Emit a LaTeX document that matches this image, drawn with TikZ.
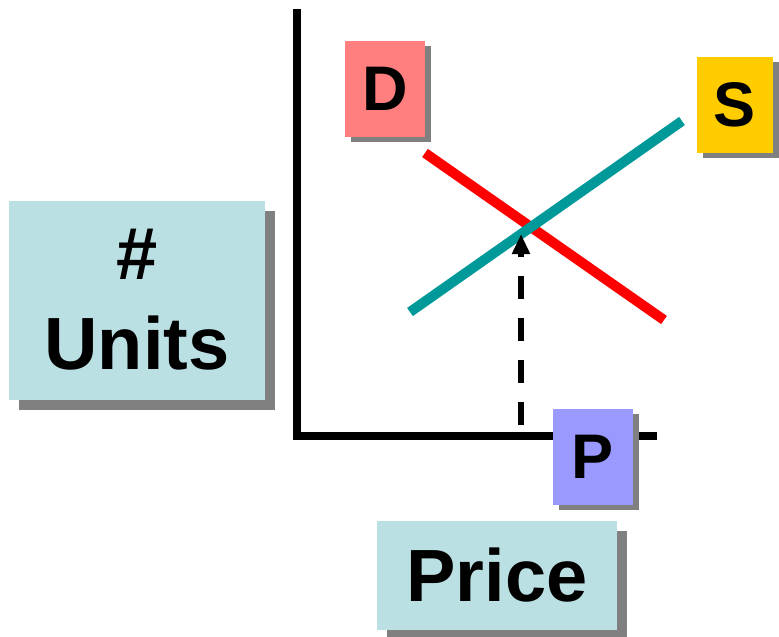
\documentclass[tikz,border=0pt]{standalone}
\usepackage{fontspec}
\setmainfont{Liberation Sans}
\usetikzlibrary{arrows.meta,shadows}
\definecolor{lblBlue}{HTML}{BBE0E3}
\definecolor{dRed}{HTML}{FF7F7F}
\definecolor{sGold}{HTML}{FFCC00}
\definecolor{pBlue}{HTML}{9999FF}
\definecolor{sTeal}{HTML}{009999}

\begin{document}
\begin{tikzpicture}[x=1pt,y=-1pt,
  bigbox/.style={fill=lblBlue,inner sep=0pt,align=center,
    font=\fontsize{74}{90}\selectfont\bfseries,
    drop shadow={shadow xshift=10pt,shadow yshift=-10pt,fill=black!50,opacity=1}},
  tagbox/.style={inner sep=0pt,minimum width=80pt,minimum height=96pt,
    font=\fontsize{63}{63}\selectfont\bfseries,
    drop shadow={shadow xshift=6pt,shadow yshift=-5pt,fill=black!50,opacity=1}},
  axisline/.style={line width=8pt},
  curveline/.style={line width=10pt}]
  \useasboundingbox (0,0) rectangle (779,637);

  % axes
  \coordinate (ytop) at (297,9);
  \coordinate (orig) at (297,436);
  \coordinate (xend) at (657,436);
  \draw[axisline] (ytop) -- (orig) -- (xend);

  % demand and supply
  \coordinate (d1) at (425,153);
  \coordinate (d2) at (664,320);
  \coordinate (s1) at (410,312);
  \coordinate (s2) at (682,121);
  \draw[curveline,red] (d1) -- (d2);
  \draw[curveline,sTeal] (s1) -- (s2);

  % price read-off
  \coordinate (pfoot) at (521,436);
  \coordinate (eq) at (521,234);
  \draw[line width=6pt,dash pattern=on 23pt off 19pt,dash phase=31pt,
    -{Triangle[length=20pt,width=17pt]}] (pfoot) -- (eq);

  % labels
  \node[tagbox,fill=dRed] (dTag) at (385,89) {D};
  \node[tagbox,fill=sGold,minimum width=76pt] (sTag) at (735,105) {S};
  \node[tagbox,fill=pBlue] (pTag) at (593,457) {P};
  \node[bigbox,minimum width=256pt,minimum height=199pt] (units) at (137,300)
    {\#\\Units};
  \node[bigbox,minimum width=240pt,minimum height=109pt] (price) at (497,575)
    {Price};
\end{tikzpicture}
\end{document}
